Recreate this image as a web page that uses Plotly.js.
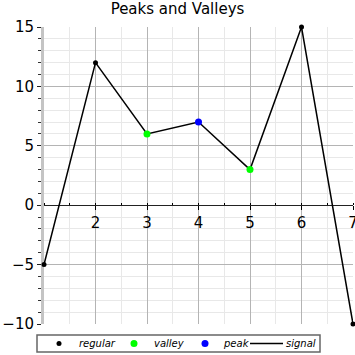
<!DOCTYPE html>
<html><head><meta charset="utf-8">
<script src="https://cdn.plot.ly/plotly-3.0.1.min.js"></script>
<style>html,body{margin:0;padding:0;background:#fff}#c{width:355px;height:355px}</style>
</head><body><div id="c"></div>
<script>
const xs = [1, 2, 3, 4, 5, 6, 7];
const signal = [-5, 12, 6, 7, 3, 15, -10];
const regularX = [1, 2, 6, 7];
const regularY = [-5, 12, 15, -10];
const valleyX = [3, 5];
const valleyY = [6, 3];
const peakX = [4];
const peakY = [7];
const xTicks = [2, 3, 4, 5, 6, 7];
const yTicks = [-10, -5, 0, 5, 10, 15];
const legendNames = ['regular', 'valley', 'peak', 'signal'];

const traces = [
  {x: xs, y: signal, mode: 'lines', name: 'signal', line: {color: '#000', width: 1.5}, cliponaxis: false},
  {x: regularX, y: regularY, mode: 'markers', name: 'regular', marker: {color: '#000', size: 5}, cliponaxis: false},
  {x: valleyX, y: valleyY, mode: 'markers', name: 'valley', marker: {color: '#00ff00', size: 7}},
  {x: peakX, y: peakY, mode: 'markers', name: 'peak', marker: {color: '#0000ff', size: 7}}
];

// pixel -> paper helpers for the hand-drawn legend box
const L = 44, W = 309, B = 324, H = 297;
const px = p => (p - L) / W;
const py = p => (B - p) / H;
const legY = py(343.5);

const shapes = [
  {type: 'rect', xref: 'paper', yref: 'paper', x0: px(37), x1: px(320), y0: py(335), y1: py(352),
   line: {color: '#666', width: 1.5}, fillcolor: '#fff', layer: 'above'},
  {type: 'circle', xref: 'paper', yref: 'paper', xsizemode: 'pixel', ysizemode: 'pixel',
   xanchor: px(59), yanchor: legY, x0: -2.5, x1: 2.5, y0: -2.5, y1: 2.5, fillcolor: '#000', line: {width: 0}, layer: 'above'},
  {type: 'circle', xref: 'paper', yref: 'paper', xsizemode: 'pixel', ysizemode: 'pixel',
   xanchor: px(134), yanchor: legY, x0: -3.5, x1: 3.5, y0: -3.5, y1: 3.5, fillcolor: '#00ff00', line: {width: 0}, layer: 'above'},
  {type: 'circle', xref: 'paper', yref: 'paper', xsizemode: 'pixel', ysizemode: 'pixel',
   xanchor: px(205), yanchor: legY, x0: -3.5, x1: 3.5, y0: -3.5, y1: 3.5, fillcolor: '#0000ff', line: {width: 0}, layer: 'above'},
  {type: 'line', xref: 'paper', yref: 'paper', x0: px(250), x1: px(283), y0: legY, y1: legY,
   line: {color: '#000', width: 1.5}, layer: 'above'}
];
const textX = [78, 153, 222, 285];
const annotations = legendNames.map((n, i) => ({
  text: n, xref: 'paper', yref: 'paper', x: px(textX[i]), y: legY, xanchor: 'left', yanchor: 'middle',
  showarrow: false, borderpad: 0, font: {size: 10, family: 'DejaVu Sans', style: 'italic', color: '#000'}
}));

const layout = {
  width: 355, height: 355,
  margin: {l: 44, r: 2, t: 27, b: 31, autoexpand: false},
  paper_bgcolor: '#fff', plot_bgcolor: '#fff',
  font: {family: 'DejaVu Sans', color: '#000'},
  title: {text: 'Peaks and Valleys', font: {size: 15, family: 'DejaVu Sans'}, x: 0.5, xanchor: 'center', y: 0.99, yanchor: 'top', automargin: false},
  xaxis: {
    range: [1, 7], anchor: 'free', position: 0.4, layer: 'below traces',
    tickvals: xTicks, ticktext: xTicks.map(String), ticklabeloverflow: 'allow',
    ticks: 'outside', ticklen: 4, tickcolor: '#000',
    showline: true, linecolor: '#222', linewidth: 1,
    showgrid: true, gridcolor: '#b4b4b4', gridwidth: 1,
    minor: {dtick: 0.5, tick0: 1, showgrid: true, gridcolor: '#e8e8e8', ticks: 'inside', ticklen: 2, tickcolor: '#000'},
    zeroline: false, tickfont: {size: 15}, fixedrange: true, automargin: false
  },
  yaxis: {
    range: [-10, 15], layer: 'below traces',
    tickvals: yTicks, ticktext: yTicks.map(v => v < 0 ? '\u2212' + Math.abs(v) : String(v)),
    ticks: 'outside', ticklen: 4, tickcolor: '#222',
    showline: true, linecolor: '#c4c4c4', linewidth: 3,
    showgrid: true, gridcolor: '#b4b4b4', gridwidth: 1,
    minor: {dtick: 1, tick0: 0, showgrid: true, gridcolor: '#e8e8e8', ticks: 'outside', ticklen: 3, tickcolor: '#333'},
    zeroline: false, tickfont: {size: 15}, fixedrange: true, automargin: false
  },
  showlegend: false,
  shapes: shapes,
  annotations: annotations
};

Plotly.newPlot('c', traces, layout, {staticPlot: true, displayModeBar: false});
</script></body></html>
